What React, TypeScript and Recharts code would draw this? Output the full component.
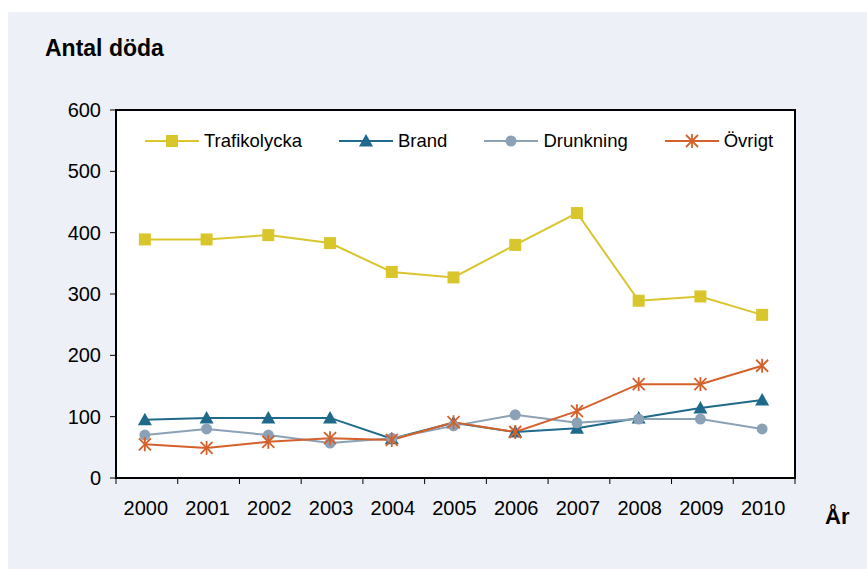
import { LineChart, Line, CartesianGrid, XAxis, YAxis } from 'recharts'

const years = ['2000', '2001', '2002', '2003', '2004', '2005', '2006', '2007', '2008', '2009', '2010']
const trafikolycka = [389, 389, 396, 383, 336, 327, 380, 432, 289, 296, 266]
const brand = [95, 98, 98, 98, 64, 90, 75, 81, 98, 114, 127]
const drunkning = [70, 80, 70, 57, 65, 85, 103, 90, 96, 96, 80]
const ovrigt = [55, 49, 59, 65, 62, 91, 75, 109, 153, 153, 183]
const yTicks = [0, 100, 200, 300, 400, 500, 600]

const data = years.map((year, i) => ({
  year,
  trafikolycka: trafikolycka[i],
  brand: brand[i],
  drunkning: drunkning[i],
  ovrigt: ovrigt[i],
}))

const FONT = '"Liberation Sans", Arial, sans-serif'

// plot frame (chart coords)
const PLOT_X = 108
const PLOT_Y = 98
const PLOT_W = 679
const PLOT_H = 368
const HALF_BAND = PLOT_W / years.length / 2
const SHIFT = 2 // points sit a little left of the band centre
const LABEL_GAP = 23

type Marker = 'square' | 'triangle' | 'circle' | 'star'

const series: { key: string; name: string; color: string; marker: Marker }[] = [
  { key: 'trafikolycka', name: 'Trafikolycka', color: '#D9C52C', marker: 'square' },
  { key: 'brand', name: 'Brand', color: '#1F6A8B', marker: 'triangle' },
  { key: 'drunkning', name: 'Drunkning', color: '#8BA1B5', marker: 'circle' },
  { key: 'ovrigt', name: 'Övrigt', color: '#D4612B', marker: 'star' },
]

const drawMarker = (marker: Marker, color: string, cx: number, cy: number, key?: string) => {
  if (marker === 'square') {
    return <rect key={key} x={cx - 6} y={cy - 6} width={12} height={12} fill={color} />
  }
  if (marker === 'triangle') {
    return (
      <polygon key={key} points={`${cx},${cy - 7} ${cx + 7},${cy + 5.5} ${cx - 7},${cy + 5.5}`} fill={color} />
    )
  }
  if (marker === 'circle') {
    return <circle key={key} cx={cx} cy={cy} r={5.5} fill={color} />
  }
  return (
    <g key={key} stroke={color} strokeWidth={1.8}>
      <line x1={cx} y1={cy - 7} x2={cx} y2={cy + 7} />
      <line x1={cx - 6} y1={cy - 6} x2={cx + 6} y2={cy + 6} />
      <line x1={cx - 6} y1={cy + 6} x2={cx + 6} y2={cy - 6} />
    </g>
  )
}

const YearTick = (props: any) => {
  const { x, y, payload, index } = props
  const axisY = y - LABEL_GAP
  const left = x - HALF_BAND + SHIFT
  const right = x + HALF_BAND + SHIFT
  return (
    <g>
      <line x1={left} y1={axisY} x2={left} y2={axisY + 6} stroke="#000000" />
      {index === years.length - 1 && <line x1={right} y1={axisY} x2={right} y2={axisY + 6} stroke="#000000" />}
      <text x={x + 1} y={y} dy="0.71em" textAnchor="middle" fill="#000000" fontSize={20} fontFamily={FONT}>
        {payload.value}
      </text>
    </g>
  )
}

const App = () => {
  return (
    <div
      style={{
        position: 'absolute',
        left: 8,
        top: 12,
        width: 859,
        height: 557,
        background: '#EDF0F6',
        fontFamily: FONT,
      }}
    >
      <div style={{ position: 'absolute', left: 37, top: 25, fontSize: 23, fontWeight: 'bold', lineHeight: '23px' }}>
        Antal döda
      </div>
      <div style={{ position: 'absolute', left: 817, top: 494, fontSize: 22, fontWeight: 'bold', lineHeight: '22px' }}>
        År
      </div>

      <LineChart width={859} height={557} data={data} margin={{ top: 98, right: 72, left: 28, bottom: 51 }}>
        <rect x={PLOT_X} y={PLOT_Y} width={PLOT_W} height={PLOT_H} fill="#FFFFFF" />
        <CartesianGrid vertical={false} stroke="#BEBEBE" strokeWidth={1} />
        <rect x={PLOT_X} y={PLOT_Y} width={PLOT_W} height={PLOT_H} fill="none" stroke="#000000" strokeWidth={2} />
        <XAxis
          dataKey="year"
          height={40}
          padding={{ left: HALF_BAND - SHIFT, right: HALF_BAND + SHIFT }}
          tickLine={false}
          tickSize={0}
          tickMargin={LABEL_GAP}
          axisLine={{ stroke: '#000000', strokeWidth: 2 }}
          tick={<YearTick />}
          interval={0}
        />
        <YAxis
          domain={[0, 600]}
          ticks={yTicks}
          width={80}
          tickSize={6}
          tickMargin={9}
          axisLine={{ stroke: '#000000', strokeWidth: 2 }}
          tickLine={{ stroke: '#000000', strokeWidth: 1 }}
          tick={{ fill: '#000000', fontSize: 20, fontFamily: FONT }}
        />
        {series.map((s) => (
          <Line
            key={s.key}
            type="linear"
            dataKey={s.key}
            name={s.name}
            stroke={s.color}
            strokeWidth={2}
            isAnimationActive={false}
            dot={(props: any) => drawMarker(s.marker, s.color, props.cx, props.cy, `${s.key}-${props.index}`)}
            activeDot={false}
          />
        ))}
      </LineChart>

      <div
        style={{
          position: 'absolute',
          left: 137,
          top: 117,
          height: 24,
          display: 'flex',
          alignItems: 'center',
          gap: 37,
          fontSize: 18.5,
          color: '#000000',
        }}
      >
        {series.map((s) => (
          <div key={s.key} style={{ display: 'flex', alignItems: 'center' }}>
            <svg width={54} height={16} style={{ marginRight: 5 }}>
              <line x1={0} y1={8} x2={54} y2={8} stroke={s.color} strokeWidth={2} />
              {drawMarker(s.marker, s.color, 27, 8)}
            </svg>
            <span>{s.name}</span>
          </div>
        ))}
      </div>
    </div>
  )
}

export default App
